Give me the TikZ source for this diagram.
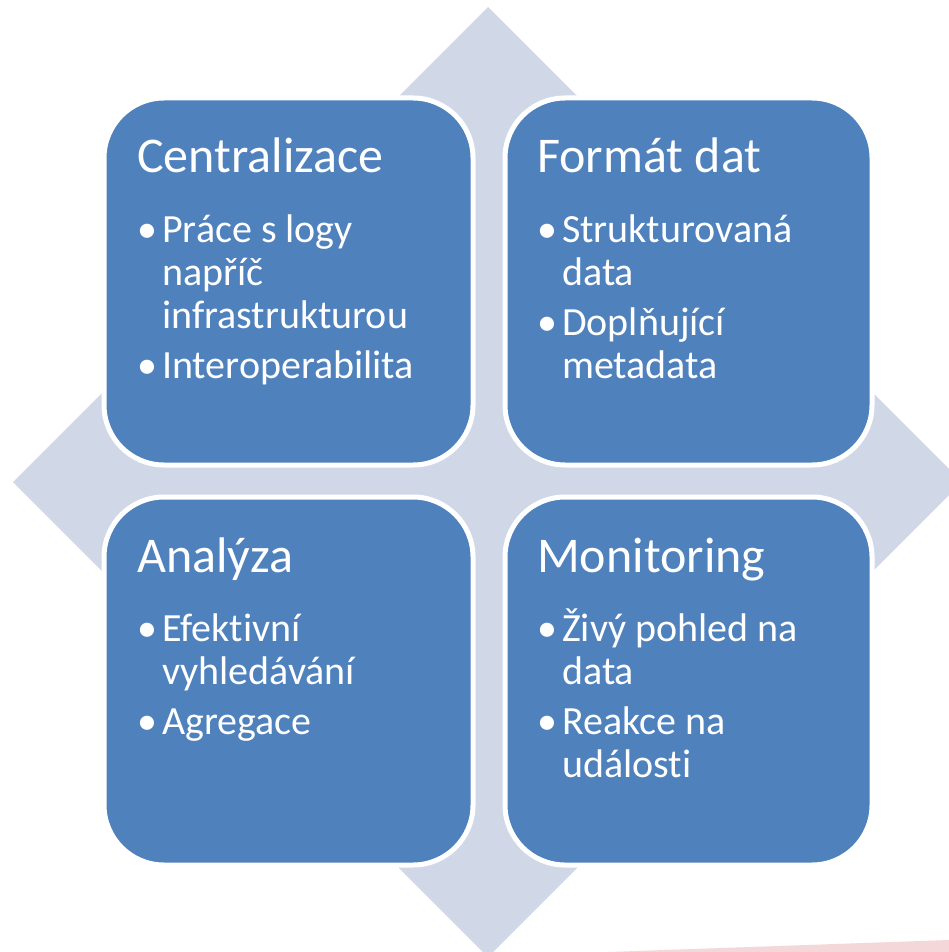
\documentclass[tikz,border=0pt]{standalone}
\usepackage{fontspec}
\setmainfont{Carlito}[Ligatures=NoCommon]
\definecolor{boxblue}{HTML}{4F81BD}
\definecolor{lightbg}{HTML}{D0D8E8}
\definecolor{pinkline}{HTML}{F4D7D9}
\tikzset{
  quad/.style={draw=white, line width=5pt, fill=boxblue, rounded corners=60pt},
  ttl/.style={anchor=base west, inner sep=0pt, text=white, font=\fontsize{50}{54}\selectfont},
  itm/.style={anchor=base west, inner sep=0pt, text=white, font=\fontsize{40}{43}\selectfont},
  bul/.style={anchor=base west, inner sep=0pt, text=white, font=\fontsize{40}{43}\selectfont}
}
\begin{document}
\begin{tikzpicture}[x=1pt,y=-1pt]
\clip (0,0) rectangle (949,952);
\fill[white] (0,0) rectangle (949,952);
% background: four arrow heads joined by a central cross
\fill[lightbg] (399,96) -- (488,7) -- (577,96) -- (577,393) -- (873,393) -- (962,482) -- (873,571) -- (577,571) -- (577,868) -- (488,957) -- (399,868) -- (399,571) -- (102,571) -- (13,482) -- (102,393) -- (399,393) -- cycle;
\fill[lightbg] (170,165) rectangle (806,800);
% faint pink wedge
\fill[pinkline] (580,953) -- (949,940) -- (949,953) -- cycle;
% boxes
\draw[quad] (104,98) rectangle (473,465);
\draw[quad] (505,98) rectangle (872,465);
\draw[quad] (104,497) rectangle (473,865);
\draw[quad] (505,497) rectangle (872,865);
% top-left
\node[ttl] (t1) at (137,172) {Centralizace};
\node[bul] (b11) at (137,242) {•};
\node[itm] (l11) at (162,242) {Práce s logy};
\node[itm] (l12) at (162,285) {napříč};
\node[itm] (l13) at (162,328) {infrastrukturou};
\node[bul] (b12) at (137,378) {•};
\node[itm] (l14) at (162,378) {Interoperabilita};
% top-right
\node[ttl] (t2) at (537,172) {Formát dat};
\node[bul] (b21) at (537,242) {•};
\node[itm] (l21) at (562,242) {Strukturovaná};
\node[itm] (l22) at (562,285) {data};
\node[bul] (b22) at (537,335) {•};
\node[itm] (l23) at (562,335) {Doplňující};
\node[itm] (l24) at (562,378) {metadata};
% bottom-left
\node[ttl] (t3) at (137,572) {Analýza};
\node[bul] (b31) at (137,641) {•};
\node[itm] (l31) at (162,641) {Efektivní};
\node[itm] (l32) at (162,684) {vyhledávání};
\node[bul] (b32) at (137,734) {•};
\node[itm] (l33) at (162,734) {Agregace};
% bottom-right
\node[ttl] (t4) at (537,572) {Monitoring};
\node[bul] (b41) at (537,641) {•};
\node[itm] (l41) at (562,641) {Živý pohled na};
\node[itm] (l42) at (562,684) {data};
\node[bul] (b42) at (537,734) {•};
\node[itm] (l43) at (562,734) {Reakce na};
\node[itm] (l44) at (562,777) {události};
\end{tikzpicture}
\end{document}
